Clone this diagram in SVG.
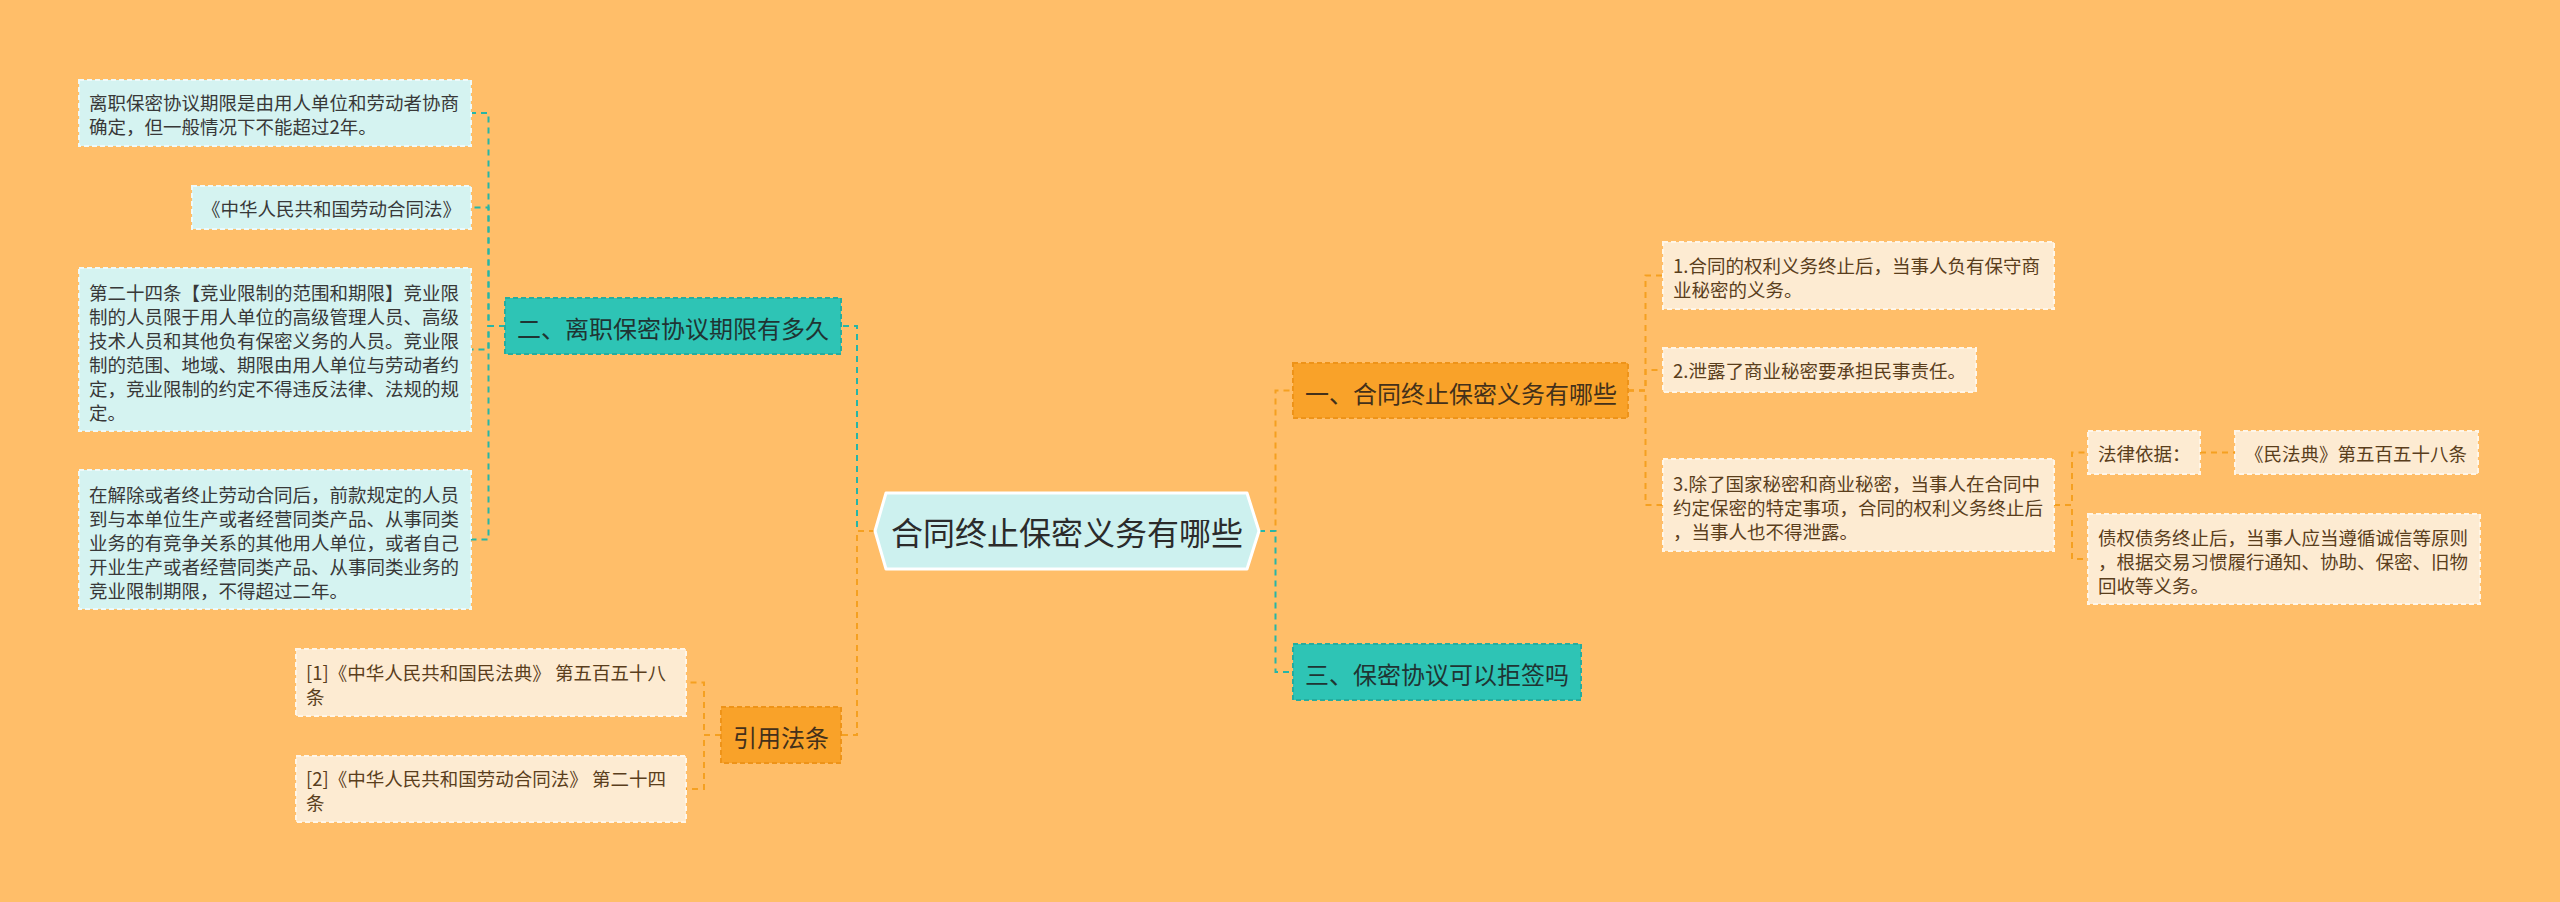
<svg xmlns="http://www.w3.org/2000/svg" width="2560" height="902" viewBox="0 0 2560 902">
<style>
text{font-family:"Noto Sans CJK SC","Noto Sans",sans-serif;dominant-baseline:central}
.bg{fill:#ffbe69}
.leafc{fill:#d5f3f1;stroke:#eefafa;stroke-width:2;stroke-dasharray:5 3}
.leafo{fill:#fdebd2;stroke:#fff6e8;stroke-width:2;stroke-dasharray:5 3}
.nodet{fill:#2ec4b5;stroke:#25ad9f;stroke-width:2;stroke-dasharray:5 3}
.nodeo{fill:#f9a229;stroke:#ee9318;stroke-width:2;stroke-dasharray:5 3}
.tc{font-size:18.5px;fill:#383838}
.to{font-size:18.5px;fill:#5a3e1c}
.tnt{font-size:24px;fill:#1f3433;text-anchor:middle}
.tno{font-size:24px;fill:#43301a;text-anchor:middle}
.lt{fill:none;stroke:#27b5a6;stroke-width:2;stroke-dasharray:6 5}
.lo{fill:none;stroke:#f5a020;stroke-width:2;stroke-dasharray:6 5}
</style>
<rect class="bg" x="0" y="0" width="2560" height="902"/>
<g id="connectors">
<path class="lt" d="M505 326H488.5V113H471"/>
<path class="lt" d="M505 326H488.5V207.5H471"/>
<path class="lt" d="M505 326H488.5V349.5H471"/>
<path class="lt" d="M505 326H488.5V539.5H471"/>
<path class="lt" d="M875 531H857V326H841"/>
<path class="lo" d="M875 531H857V735H841"/>
<path class="lo" d="M721 735H704V682.5H686"/>
<path class="lo" d="M721 735H704V789H686"/>
<path class="lo" d="M1259 531H1275.5V390.5H1293"/>
<path class="lt" d="M1259 531H1275.5V672H1293"/>
<path class="lo" d="M1628 390.5H1645.5V275.5H1663"/>
<path class="lo" d="M1628 390.5H1645.5V370H1663"/>
<path class="lo" d="M1628 390.5H1645.5V505H1663"/>
<path class="lo" d="M2054 505H2072V452.5H2088"/>
<path class="lo" d="M2054 505H2072V559H2088"/>
<path class="lo" d="M2200 452.5H2235"/>
</g>
<g id="center">
<polygon points="875,531 886,493 1247,493 1259,531 1247,569 886,569" fill="#cdf1ef" stroke="#ffffff" stroke-width="3" stroke-linejoin="round"/>
<text x="1067" y="531" font-size="32" fill="#2b2b2b" text-anchor="middle">合同终止保密义务有哪些</text>
</g>
<g id="n-b2">
<rect class="nodet" x="505" y="298" width="336" height="56"/>
<text class="tnt" x="673" y="327">二、离职保密协议期限有多久</text>
</g>
<g id="n-a1">
<rect class="leafc" x="79" y="80" width="392" height="66"/>
<text class="tc" x="89" y="102">离职保密协议期限是由用人单位和劳动者协商</text>
<text class="tc" x="89" y="126">确定，但一般情况下不能超过2年。</text>
</g>
<g id="n-a2">
<rect class="leafc" x="192" y="186" width="279" height="43"/>
<text class="tc" x="202" y="207.5">《中华人民共和国劳动合同法》</text>
</g>
<g id="n-a3">
<rect class="leafc" x="79" y="268" width="392" height="163"/>
<text class="tc" x="89" y="291.5">第二十四条【竞业限制的范围和期限】竞业限</text>
<text class="tc" x="89" y="315.5">制的人员限于用人单位的高级管理人员、高级</text>
<text class="tc" x="89" y="339.5">技术人员和其他负有保密义务的人员。竞业限</text>
<text class="tc" x="89" y="363.5">制的范围、地域、期限由用人单位与劳动者约</text>
<text class="tc" x="89" y="387.5">定，竞业限制的约定不得违反法律、法规的规</text>
<text class="tc" x="89" y="411.5">定。</text>
</g>
<g id="n-a4">
<rect class="leafc" x="79" y="470" width="392" height="139"/>
<text class="tc" x="89" y="493.5">在解除或者终止劳动合同后，前款规定的人员</text>
<text class="tc" x="89" y="517.5">到与本单位生产或者经营同类产品、从事同类</text>
<text class="tc" x="89" y="541.5">业务的有竞争关系的其他用人单位，或者自己</text>
<text class="tc" x="89" y="565.5">开业生产或者经营同类产品、从事同类业务的</text>
<text class="tc" x="89" y="589.5">竞业限制期限，不得超过二年。</text>
</g>
<g id="n-ref">
<rect class="nodeo" x="721" y="707" width="120" height="56"/>
<text class="tno" x="781" y="736">引用法条</text>
</g>
<g id="n-c1">
<rect class="leafo" x="296" y="649" width="390" height="67"/>
<text class="to" x="306" y="672">[1]《中华人民共和国民法典》 第五百五十八</text>
<text class="to" x="306" y="696">条</text>
</g>
<g id="n-c2">
<rect class="leafo" x="296" y="756" width="390" height="66"/>
<text class="to" x="306" y="778">[2]《中华人民共和国劳动合同法》 第二十四</text>
<text class="to" x="306" y="802">条</text>
</g>
<g id="n-b1">
<rect class="nodeo" x="1293" y="363" width="335" height="55"/>
<text class="tno" x="1461" y="392">一、合同终止保密义务有哪些</text>
</g>
<g id="n-b3">
<rect class="nodet" x="1293" y="644" width="288" height="56"/>
<text class="tnt" x="1437" y="673">三、保密协议可以拒签吗</text>
</g>
<g id="n-d1">
<rect class="leafo" x="1663" y="242" width="391" height="67"/>
<text class="to" x="1673" y="265">1.合同的权利义务终止后，当事人负有保守商</text>
<text class="to" x="1673" y="289">业秘密的义务。</text>
</g>
<g id="n-d2">
<rect class="leafo" x="1663" y="348" width="313" height="44"/>
<text class="to" x="1673" y="370">2.泄露了商业秘密要承担民事责任。</text>
</g>
<g id="n-d3">
<rect class="leafo" x="1663" y="459" width="391" height="92"/>
<text class="to" x="1673" y="483">3.除了国家秘密和商业秘密，当事人在合同中</text>
<text class="to" x="1673" y="507">约定保密的特定事项，合同的权利义务终止后</text>
<text class="to" x="1673" y="531">，当事人也不得泄露。</text>
</g>
<g id="n-e1">
<rect class="leafo" x="2088" y="431" width="112" height="43"/>
<text class="to" x="2098" y="452.5">法律依据：</text>
</g>
<g id="n-e2">
<rect class="leafo" x="2235" y="431" width="243" height="43"/>
<text class="to" x="2245" y="452.5">《民法典》第五百五十八条</text>
</g>
<g id="n-e3">
<rect class="leafo" x="2088" y="514" width="392" height="90"/>
<text class="to" x="2098" y="536.5">债权债务终止后，当事人应当遵循诚信等原则</text>
<text class="to" x="2098" y="560.5">，根据交易习惯履行通知、协助、保密、旧物</text>
<text class="to" x="2098" y="584.5">回收等义务。</text>
</g>
</svg>
